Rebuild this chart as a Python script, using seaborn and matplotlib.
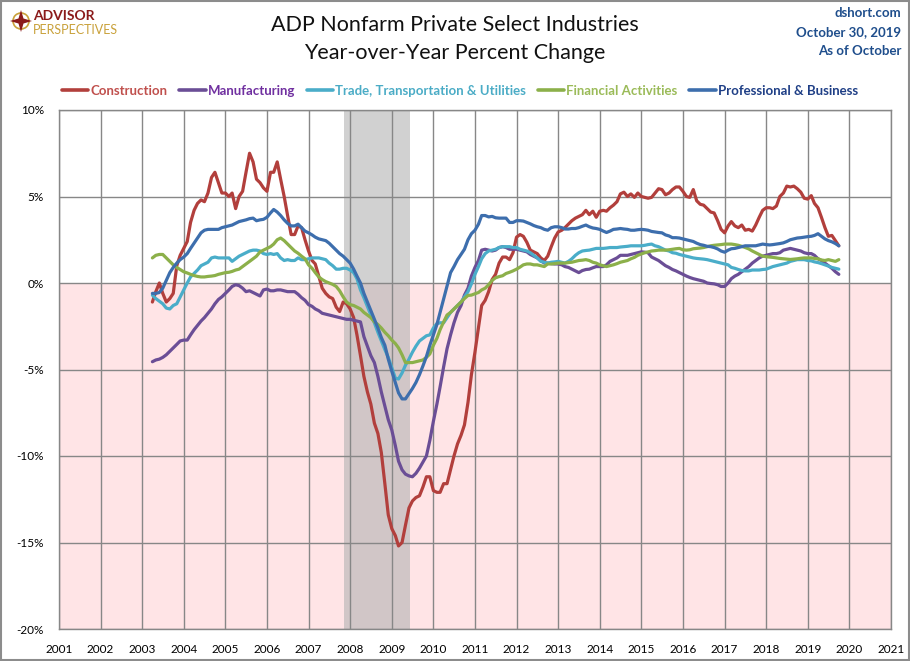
import pandas as pd
import numpy as np
import seaborn as sns
import matplotlib.pyplot as plt
from matplotlib.lines import Line2D
from matplotlib.patches import Rectangle, Circle, Polygon

# monthly YoY % change, Apr 2003 - Oct 2019
dates = pd.date_range('2003-04-01', '2019-10-01', freq='MS')

construction = (
    [-1.1, -0.5, 0.0, -0.6, -1.1, -0.9, -0.6, 1.0, 1.6] +                       # 2003
    [2.0, 2.4, 3.5, 4.2, 4.6, 4.8, 4.7, 5.2, 6.1, 6.4, 5.8, 5.2] +              # 2004
    [5.2, 5.0, 5.2, 4.3, 5.0, 5.3, 6.4, 7.5, 7.0, 6.0, 5.8, 5.5] +              # 2005
    [5.3, 6.4, 6.4, 7.0, 6.0, 5.0, 3.9, 2.8, 2.8, 3.3, 3.2, 2.5] +              # 2006
    [1.85, 1.3, 1.1, 0.4, -0.3, -0.6, -0.8, -0.9, -1.4, -1.65, -1.1, -1.2] +    # 2007
    [-1.5, -2.0, -3.0, -4.2, -5.4, -6.3, -7.0, -8.1, -8.7, -9.8, -11.6, -13.4] +  # 2008
    [-14.2, -14.6, -15.2, -15.0, -14.0, -13.0, -12.6, -12.4, -12.3, -11.8, -11.2, -11.2] +  # 2009
    [-12.0, -12.1, -12.1, -11.6, -11.6, -10.8, -10.0, -9.3, -8.8, -8.2, -6.9, -5.3] +  # 2010
    [-4.0, -2.6, -1.3, -1.0, -0.5, 0.2, 0.5, 1.15, 1.5, 1.5, 1.35, 1.75] +      # 2011
    [2.65, 2.8, 2.7, 2.35, 1.9, 1.8, 1.7, 1.45, 1.3, 1.55, 2.1, 2.6] +          # 2012
    [2.95, 3.05, 3.2, 3.4, 3.6, 3.75, 3.85, 3.95, 4.2, 3.95, 4.15, 3.8] +       # 2013
    [4.15, 4.2, 4.15, 4.35, 4.5, 4.7, 5.15, 5.25, 5.0, 5.15, 4.95, 5.2] +       # 2014
    [5.0, 4.95, 4.9, 4.95, 5.2, 5.45, 5.4, 5.1, 5.2, 5.4, 5.55, 5.55] +         # 2015
    [5.3, 5.0, 4.95, 5.4, 4.75, 4.55, 4.5, 4.3, 4.1, 4.05, 3.6, 3.1] +          # 2016
    [2.9, 3.3, 3.55, 3.3, 3.2, 3.35, 3.05, 3.1, 3.0, 3.35, 3.8, 4.2] +          # 2017
    [4.35, 4.35, 4.3, 4.45, 5.0, 5.2, 5.6, 5.55, 5.6, 5.45, 5.25, 4.9] +        # 2018
    [4.85, 5.05, 4.6, 4.35, 3.8, 3.2, 2.7, 2.75, 2.45, 2.15]                    # 2019
)

manufacturing = (
    [-4.55, -4.45, -4.4, -4.3, -4.15, -3.95, -3.75, -3.55, -3.35] +
    [-3.3, -3.3, -3.0, -2.7, -2.45, -2.2, -2.0, -1.75, -1.5, -1.2, -0.95, -0.8] +
    [-0.6, -0.4, -0.2, -0.1, -0.15, -0.3, -0.5, -0.45, -0.55, -0.65, -0.75, -0.4] +
    [-0.35, -0.45, -0.45, -0.4, -0.4, -0.45, -0.5, -0.5, -0.5, -0.65, -0.85, -1.0] +
    [-1.25, -1.35, -1.5, -1.6, -1.75, -1.8, -1.85, -1.9, -1.95, -2.0, -2.05, -2.1] +
    [-2.1, -2.15, -2.2, -2.25, -3.1, -3.65, -4.2, -4.6, -5.4, -6.3, -7.1, -7.9] +
    [-8.5, -9.4, -10.3, -10.8, -11.05, -11.15, -11.2, -11.0, -10.7, -10.35, -10.0, -9.1] +
    [-8.0, -7.0, -6.0, -4.85, -3.8, -3.0, -2.3, -1.7, -1.3, -0.7, -0.3, 0.4] +
    [0.9, 1.3, 1.9, 1.95, 1.9, 1.85, 1.9, 2.05, 2.1, 2.05, 1.95, 1.95] +
    [1.95, 1.9, 1.85, 1.8, 1.65, 1.55, 1.45, 1.3, 1.15, 1.15, 1.12, 1.1] +
    [1.1, 1.05, 0.95, 0.9, 0.8, 0.7, 0.6, 0.72, 0.78, 0.8, 0.88, 0.95] +
    [0.95, 0.95, 1.05, 1.25, 1.35, 1.45, 1.6, 1.6, 1.6, 1.65, 1.7, 1.75] +
    [1.8, 1.78, 1.75, 1.5, 1.4, 1.3, 1.15, 1.0, 0.9, 0.78, 0.7, 0.6] +
    [0.5, 0.4, 0.32, 0.25, 0.2, 0.15, 0.1, 0.0, -0.03, -0.05, -0.1, -0.2] +
    [-0.2, 0.0, 0.25, 0.4, 0.5, 0.65, 0.8, 0.95, 1.15, 1.3, 1.45, 1.55] +
    [1.6, 1.65, 1.7, 1.7, 1.75, 1.9, 1.95, 2.0, 1.95, 1.9, 1.85, 1.75] +
    [1.7, 1.7, 1.6, 1.4, 1.3, 1.15, 1.0, 0.85, 0.65, 0.5]
)

trade = (
    [-0.7, -0.9, -1.05, -1.2, -1.45, -1.5, -1.3, -1.2, -0.8] +
    [-0.4, 0.0, 0.35, 0.55, 0.75, 1.0, 1.1, 1.2, 1.45, 1.5, 1.45, 1.45] +
    [1.45, 1.45, 1.25, 1.4, 1.55, 1.65, 1.75, 1.85, 1.9, 1.9, 1.85, 1.7] +
    [1.65, 1.7, 1.65, 1.7, 1.45, 1.3, 1.35, 1.3, 1.3, 1.45, 1.35, 1.35] +
    [1.4, 1.45, 1.45, 1.45, 1.4, 1.35, 1.15, 1.0, 0.8, 0.8, 0.85, 0.85] +
    [0.75, 0.6, 0.25, -0.4, -0.85, -1.35, -1.85, -2.3, -2.85, -3.35, -3.85, -4.3] +
    [-4.9, -5.5, -5.55, -5.2, -4.75, -4.4, -4.0, -3.65, -3.35, -3.2, -3.05, -3.0] +
    [-2.6, -2.35, -2.3, -2.3, -2.0, -1.7, -1.5, -1.3, -1.1, -0.8, -0.5, -0.05] +
    [0.5, 0.95, 1.4, 1.7, 1.85, 1.9, 1.95, 2.05, 2.1, 2.1, 2.1, 2.05] +
    [2.05, 1.95, 1.9, 1.85, 1.75, 1.6, 1.45, 1.25, 1.2, 1.15, 1.2, 1.22] +
    [1.25, 1.2, 1.15, 1.25, 1.4, 1.6, 1.75, 1.85, 1.88, 1.9, 1.95, 2.0] +
    [2.0, 2.0, 2.02, 2.05, 2.05, 2.05, 2.08, 2.1, 2.12, 2.15, 2.15, 2.15] +
    [2.15, 2.18, 2.22, 2.25, 2.15, 2.1, 2.0, 1.9, 1.85, 1.75, 1.72, 1.65] +
    [1.6, 1.55, 1.5, 1.45, 1.42, 1.4, 1.38, 1.35, 1.3, 1.25, 1.2, 1.15] +
    [1.1, 1.05, 0.9, 0.85, 0.78, 0.72, 0.7, 0.7, 0.75, 0.75, 0.75, 0.78] +
    [0.8, 0.88, 0.95, 1.0, 1.05, 1.1, 1.15, 1.25, 1.3, 1.35, 1.35, 1.35] +
    [1.3, 1.28, 1.22, 1.18, 1.12, 1.05, 0.98, 0.9, 0.85, 0.8]
)

financial = (
    [1.45, 1.6, 1.65, 1.65, 1.45, 1.25, 1.05, 0.9, 0.78] +
    [0.65, 0.58, 0.5, 0.43, 0.38, 0.35, 0.35, 0.38, 0.4, 0.43, 0.5, 0.55] +
    [0.6, 0.62, 0.67, 0.75, 0.8, 0.95, 1.1, 1.25, 1.4, 1.55, 1.8, 1.9] +
    [2.0, 2.1, 2.25, 2.5, 2.6, 2.45, 2.25, 2.05, 1.85, 1.72, 1.55, 1.4] +
    [1.05, 0.85, 0.6, 0.35, 0.2, 0.08, 0.0, -0.08, -0.2, -0.45, -0.8, -1.1] +
    [-1.25, -1.3, -1.4, -1.5, -1.7, -1.85, -2.0, -2.25, -2.4, -2.6, -2.85, -3.05] +
    [-3.3, -3.5, -3.75, -4.15, -4.6, -4.6, -4.6, -4.55, -4.5, -4.45, -4.3, -4.1] +
    [-3.6, -3.2, -2.7, -2.25, -1.85, -1.7, -1.5, -1.3, -1.1, -0.9, -0.72, -0.7] +
    [-0.62, -0.55, -0.4, -0.3, -0.1, 0.15, 0.3, 0.37, 0.42, 0.55, 0.62, 0.7] +
    [0.8, 0.92, 1.05, 1.1, 1.1, 1.05, 1.05, 1.0, 0.95, 1.1, 1.1, 1.12] +
    [1.15, 1.15, 1.15, 1.18, 1.2, 1.25, 1.3, 1.32, 1.35, 1.3, 1.2, 1.15] +
    [1.05, 1.0, 0.95, 1.0, 1.05, 1.12, 1.2, 1.25, 1.3, 1.4, 1.48, 1.6] +
    [1.68, 1.75, 1.8, 1.85, 1.87, 1.9, 1.9, 1.9, 1.92, 1.95, 1.98, 2.0] +
    [1.92, 1.9, 1.92, 1.98, 2.0, 2.02, 2.05, 2.1, 2.15, 2.18, 2.2, 2.22] +
    [2.25, 2.25, 2.25, 2.22, 2.18, 2.12, 2.05, 1.97, 1.85, 1.75, 1.65, 1.55] +
    [1.52, 1.5, 1.48, 1.45, 1.42, 1.4, 1.38, 1.36, 1.38, 1.4, 1.43, 1.45] +
    [1.45, 1.45, 1.42, 1.4, 1.33, 1.3, 1.35, 1.3, 1.25, 1.35]
)

professional = (
    [-0.6, -0.6, -0.55, -0.3, 0.15, 0.6, 0.9, 1.15, 1.35] +
    [1.5, 1.7, 2.0, 2.3, 2.6, 2.9, 3.05, 3.1, 3.1, 3.1, 3.1, 3.2] +
    [3.25, 3.3, 3.35, 3.45, 3.55, 3.6, 3.65, 3.72, 3.75, 3.6, 3.65, 3.68] +
    [3.8, 4.05, 4.25, 4.1, 3.9, 3.65, 3.45, 3.3, 3.3, 3.4, 3.2, 3.0] +
    [2.9, 2.78, 2.65, 2.55, 2.5, 2.45, 2.3, 2.1, 1.9, 1.7, 1.55, 1.35] +
    [1.15, 0.8, 0.4, 0.0, -0.6, -1.1, -1.6, -2.1, -2.6, -3.15, -3.6, -4.4] +
    [-5.1, -5.75, -6.35, -6.7, -6.7, -6.4, -6.1, -5.75, -5.3, -4.8, -4.25, -3.6] +
    [-3.0, -2.4, -1.7, -0.9, -0.15, 0.6, 0.95, 1.35, 1.65, 1.95, 2.5, 2.85] +
    [3.05, 3.4, 3.9, 3.9, 3.82, 3.85, 3.77, 3.75, 3.75, 3.75, 3.5, 3.5] +
    [3.6, 3.6, 3.58, 3.5, 3.42, 3.32, 3.25, 3.2, 3.1, 3.05, 3.2, 3.25] +
    [3.25, 3.2, 3.12, 3.12, 3.15, 3.15, 3.2, 3.28, 3.35, 3.25, 3.18, 3.15] +
    [3.1, 3.0, 2.92, 3.0, 3.1, 3.12, 3.15, 3.12, 3.1, 3.05, 3.05, 3.08] +
    [3.1, 3.08, 3.05, 2.98, 2.95, 2.92, 2.9, 2.78, 2.72, 2.62, 2.62, 2.6] +
    [2.55, 2.5, 2.45, 2.4, 2.3, 2.22, 2.18, 2.12, 2.1, 2.05, 1.97, 1.85] +
    [1.78, 1.9, 1.98, 2.0, 2.05, 2.1, 2.15, 2.15, 2.15, 2.15, 2.2, 2.25] +
    [2.22, 2.2, 2.22, 2.25, 2.28, 2.32, 2.4, 2.5, 2.55, 2.6, 2.62, 2.65] +
    [2.68, 2.7, 2.75, 2.85, 2.7, 2.55, 2.45, 2.38, 2.28, 2.15]
)

names = ['Construction', 'Manufacturing', 'Trade, Transportation & Utilities',
         'Financial Activities', 'Professional & Business']
line_colors = ['#B23F3C', '#6B4E96', '#4AADC9', '#8CB04A', '#3D6EAD']
text_colors = ['#C0504D', '#7030A0', '#4BACC6', '#9BBB59', '#1F3F86']

year_ticks = list(range(2001, 2022))
pct_ticks = [-20, -15, -10, -5, 0, 5, 10]

df = pd.DataFrame({'Date': dates, names[0]: construction, names[1]: manufacturing,
                   names[2]: trade, names[3]: financial, names[4]: professional})
long_df = df.melt(id_vars='Date', var_name='Industry', value_name='YoY')

sns.set_style('white')
plt.rcParams['font.family'] = ['Lato', 'DejaVu Sans']

fig = plt.figure(figsize=(9.1, 6.61), dpi=100)
ax = fig.add_axes([59/910, 1-629/661, (891-59)/910, (629-110)/661])

# pink area below zero and the recession band
ax.axhspan(-20, 0, color='#FFE4E6', lw=0, zorder=0.1)
ax.axvspan(pd.Timestamp('2007-11-10'), pd.Timestamp('2009-06-10'),
           color='#B3B3B3', alpha=0.6, lw=0, zorder=0.2)

sns.lineplot(data=long_df, x='Date', y='YoY', hue='Industry', hue_order=names,
             palette=dict(zip(names, line_colors)), linewidth=2.3, legend=False,
             ax=ax, zorder=3)

ax.set_xlim(pd.Timestamp('2001-01-01'), pd.Timestamp('2021-01-01'))
ax.set_ylim(-20, 10)
ax.set_xticks([pd.Timestamp(f'{y}-01-01') for y in year_ticks])
ax.set_xticklabels([str(y) for y in year_ticks])
ax.set_yticks(pct_ticks)
ax.set_yticklabels([f'{v}%' for v in pct_ticks])
ax.set_xlabel('')
ax.set_ylabel('')
ax.set_axisbelow(True)
ax.grid(True, color='#878787', lw=1.0)
for sp in ax.spines.values():
    sp.set_color('#878787')
    sp.set_linewidth(1.0)
ax.tick_params(axis='both', length=0, labelsize=8.5, colors='black')
ax.tick_params(axis='x', pad=11)
ax.tick_params(axis='y', pad=11)

# legend with coloured text
handles = [Line2D([], [], color=c, lw=2.6) for c in line_colors]
ax.legend(handles, names, loc='center', bbox_to_anchor=(460/910, 1-91/661),
          bbox_transform=fig.transFigure, ncol=5, frameon=False,
          handlelength=2.0, handletextpad=0.15, columnspacing=0.9,
          labelcolor=text_colors, prop={'weight': 'bold', 'size': 9.5})

# overlay for header text, logo and border (pixel coordinates)
top = fig.add_axes([0, 0, 1, 1], facecolor='none', zorder=10)
top.set_xlim(0, 910)
top.set_ylim(661, 0)
top.axis('off')

top.text(455, 25, 'ADP Nonfarm Private Select Industries', ha='center', va='center',
         fontsize=15.5, color='#111111')
top.text(455, 53, 'Year-over-Year Percent Change', ha='center', va='center',
         fontsize=15.5, color='#111111')

for yy, s in zip([13, 32, 51], ['dshort.com', 'October 30, 2019', 'As of October']):
    top.text(901, yy, s, ha='right', va='center', fontsize=9.5,
             fontweight='bold', color='#1F4E8C')

# logo
top.add_patch(Circle((21, 21), 8, fill=False, edgecolor='#C9A13A', lw=1.2))
star = [(21, 10), (23.5, 18.5), (32, 21), (23.5, 23.5), (21, 32), (18.5, 23.5),
        (10, 21), (18.5, 18.5)]
top.add_patch(Polygon(star, closed=True, facecolor='#8B1A1A', edgecolor='none'))
top.text(33, 20.5, 'ADVISOR', ha='left', va='baseline', fontsize=10,
         fontweight='bold', color='#8B1A1A')
top.text(33, 33.5, 'PERSPECTIVES', ha='left', va='baseline', fontsize=9,
         color='#C9A13A')

top.add_patch(Rectangle((0.5, 0.5), 908.5, 659.5, fill=False,
                        edgecolor='#8C8C8C', lw=1.5))

fig.savefig('out.png', dpi=100)
